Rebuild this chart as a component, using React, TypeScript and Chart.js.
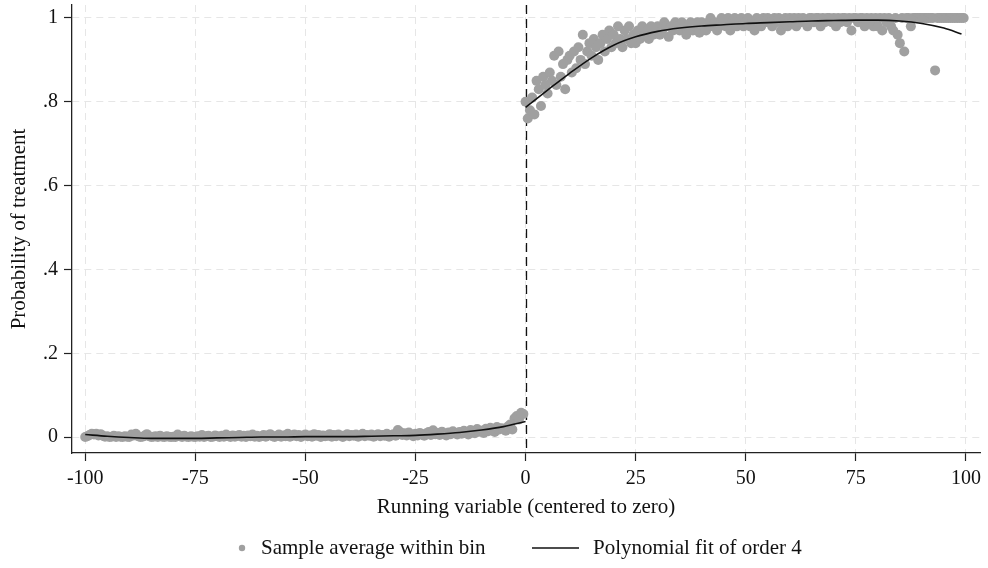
import React, { useEffect, useRef } from 'react';
import { Chart, registerables } from 'chart.js';

Chart.register(...registerables);

// ---------- data ----------
const cutoff = 0;
const binWidth = 0.5;
const leftBinStart = -100;
const rightBinStart = 0;

// sample averages within bins, left of cutoff (-100 .. -0.5, step 0.5)
const leftBinMeans = [
  0.000, 0.002, 0.005, 0.008, 0.006, 0.008, 0.004, 0.007, 0.003, 0.001,
  0.002, 0.000, 0.001, 0.003, 0.000, 0.002, 0.001, 0.000, 0.002, 0.001,
  0.000, 0.006, 0.004, 0.008, 0.002, 0.000, 0.001, 0.003, 0.007, 0.002,
  0.000, 0.001, 0.002, 0.000, 0.003, 0.001, 0.000, 0.002, 0.001, 0.000,
  0.001, 0.000, 0.006, 0.002, 0.000, 0.003, 0.001, 0.000, 0.002, 0.001,
  0.000, 0.002, 0.001, 0.005, 0.000, 0.002, 0.003, 0.000, 0.001, 0.004,
  0.002, 0.000, 0.003, 0.001, 0.006, 0.002, 0.000, 0.004, 0.001, 0.003,
  0.005, 0.001, 0.003, 0.000, 0.004, 0.002, 0.006, 0.001, 0.003, 0.000,
  0.002, 0.005, 0.001, 0.004, 0.007, 0.002, 0.000, 0.003, 0.006, 0.001,
  0.004, 0.002, 0.008, 0.001, 0.003, 0.006, 0.002, 0.005, 0.000, 0.004,
  0.006, 0.002, 0.004, 0.001, 0.007, 0.003, 0.005, 0.000, 0.004, 0.002,
  0.003, 0.007, 0.001, 0.005, 0.002, 0.006, 0.004, 0.000, 0.003, 0.007,
  0.002, 0.005, 0.003, 0.006, 0.001, 0.004, 0.008, 0.002, 0.005, 0.003,
  0.006, 0.001, 0.004, 0.007, 0.002, 0.005, 0.003, 0.008, 0.001, 0.004,
  0.007, 0.003, 0.017, 0.012, 0.005, 0.009, 0.004, 0.011, 0.006, 0.002,
  0.008, 0.004, 0.010, 0.006, 0.003, 0.009, 0.012, 0.005, 0.016, 0.007,
  0.010, 0.005, 0.013, 0.008, 0.004, 0.011, 0.007, 0.014, 0.009, 0.006,
  0.012, 0.008, 0.015, 0.010, 0.006, 0.017, 0.011, 0.009, 0.019, 0.013,
  0.015, 0.010, 0.020, 0.014, 0.022, 0.016, 0.012, 0.024, 0.018, 0.021,
  0.020, 0.015, 0.025, 0.030, 0.018, 0.045, 0.050, 0.042, 0.058, 0.055,
];

// sample averages within bins, right of cutoff (0 .. 99.5, step 0.5)
const rightBinMeans = [
  0.80, 0.76, 0.78, 0.81, 0.77, 0.85, 0.83, 0.79, 0.86, 0.84,
  0.82, 0.87, 0.85, 0.91, 0.84, 0.92, 0.86, 0.89, 0.83, 0.90,
  0.91, 0.87, 0.92, 0.88, 0.93, 0.90, 0.96, 0.89, 0.92, 0.94,
  0.91, 0.95, 0.93, 0.90, 0.94, 0.96, 0.92, 0.95, 0.97, 0.93,
  0.96, 0.94, 0.98, 0.95, 0.93, 0.97, 0.95, 0.98, 0.94, 0.96,
  0.94, 0.97, 0.95, 0.98, 0.96, 0.97, 0.95, 0.98, 0.96, 0.97,
  0.98, 0.96, 0.97, 0.99, 0.98, 0.955, 0.98, 0.97, 0.99, 0.98,
  0.97, 0.99, 0.98, 0.96, 0.98, 0.99, 0.97, 0.98, 0.99, 0.965,
  0.99, 0.98, 0.97, 0.99, 1.00, 0.98, 0.99, 0.97, 0.98, 1.00,
  0.99, 0.98, 1.00, 0.97, 0.99, 1.00, 0.98, 0.99, 1.00, 0.98,
  0.99, 1.00, 0.98, 0.99, 0.97, 1.00, 0.99, 0.98, 1.00, 0.99,
  1.00, 0.99, 0.98, 1.00, 0.99, 1.00, 0.97, 0.99, 1.00, 0.98,
  1.00, 0.99, 1.00, 0.98, 1.00, 0.99, 1.00, 0.99, 0.98, 1.00,
  1.00, 0.99, 1.00, 1.00, 0.98, 1.00, 0.99, 1.00, 1.00, 0.99,
  1.00, 0.98, 1.00, 0.99, 1.00, 1.00, 0.99, 1.00, 0.97, 1.00,
  1.00, 0.99, 1.00, 1.00, 0.98, 1.00, 0.99, 1.00, 0.98, 1.00,
  0.98, 1.00, 0.97, 1.00, 0.99, 1.00, 0.98, 0.97, 1.00, 0.96,
  0.94, 1.00, 0.92, 1.00, 1.00, 0.98, 1.00, 1.00, 1.00, 1.00,
  1.00, 1.00, 1.00, 1.00, 1.00, 1.00, 0.875, 1.00, 1.00, 1.00,
  1.00, 1.00, 1.00, 1.00, 1.00, 1.00, 1.00, 1.00, 1.00, 1.00,
];

// polynomial fit of order 4
const fitLeftX = [-100, -95, -90, -85, -80, -75, -70, -65, -60, -55, -50, -45, -40, -35, -30, -25, -20, -15, -10, -5, 0];
const fitLeftY = [0.006, 0.002, -0.001, -0.003, -0.003, -0.003, -0.002, -0.001, 0.000, 0.000, 0.001, 0.001, 0.001, 0.002, 0.003, 0.004, 0.007, 0.011, 0.017, 0.025, 0.037];
const fitRightX = [0, 5, 10, 15, 20, 25, 30, 35, 40, 45, 50, 55, 60, 65, 70, 75, 80, 85, 90, 95, 99];
const fitRightY = [0.787, 0.828, 0.868, 0.905, 0.935, 0.955, 0.968, 0.976, 0.981, 0.984, 0.987, 0.989, 0.991, 0.993, 0.994, 0.995, 0.995, 0.993, 0.987, 0.976, 0.962];

const xTickValues = [-100, -75, -50, -25, 0, 25, 50, 75, 100];
const xTickLabels = ['-100', '-75', '-50', '-25', '0', '25', '50', '75', '100'];
const yTickValues = [0, 0.2, 0.4, 0.6, 0.8, 1];
const yTickLabels = ['0', '.2', '.4', '.6', '.8', '1'];

const xTitle = 'Running variable (centered to zero)';
const yTitle = 'Probability of treatment';
const legendLabels = ['Sample average within bin', 'Polynomial fit of order 4'];

// ---------- styles ----------
const FONT = '"Liberation Serif", "Times New Roman", serif';
const DOT = '#a0a0a0';
const INK = '#111111';
const GRID = '#e6e6e6';

const cutoffLine = {
  id: 'cutoffLine',
  beforeDatasetsDraw(chart: any) {
    const { ctx, chartArea, scales } = chart;
    const x = Math.round(scales.x.getPixelForValue(cutoff)) + 0.5;
    ctx.save();
    ctx.strokeStyle = INK;
    ctx.lineWidth = 1.3;
    ctx.setLineDash([9, 5]);
    ctx.beginPath();
    ctx.moveTo(x, chartArea.top);
    ctx.lineTo(x, chartArea.bottom);
    ctx.stroke();
    ctx.restore();
  },
};

const bottomLegend = {
  id: 'bottomLegend',
  afterDraw(chart: any) {
    const { ctx } = chart;
    const y = 548;
    ctx.save();
    ctx.font = `21px ${FONT}`;
    ctx.textBaseline = 'middle';
    ctx.textAlign = 'left';
    ctx.fillStyle = DOT;
    ctx.beginPath();
    ctx.arc(242, y, 3.2, 0, Math.PI * 2);
    ctx.fill();
    ctx.fillStyle = INK;
    ctx.fillText(legendLabels[0], 261, y);
    ctx.strokeStyle = INK;
    ctx.lineWidth = 1.5;
    ctx.beginPath();
    ctx.moveTo(532, y);
    ctx.lineTo(579, y);
    ctx.stroke();
    ctx.fillText(legendLabels[1], 593, y);
    ctx.restore();
  },
};

export default function App() {
  const canvasRef = useRef<HTMLCanvasElement | null>(null);

  useEffect(() => {
    document.body.style.margin = '0';
    const canvas = canvasRef.current;
    if (!canvas) return;

    const scatterPoints = [
      ...leftBinMeans.map((y, i) => ({ x: leftBinStart + i * binWidth, y })),
      ...rightBinMeans.map((y, i) => ({ x: rightBinStart + i * binWidth, y })),
    ];
    const fitLeft = fitLeftX.map((x, i) => ({ x, y: fitLeftY[i] }));
    const fitRight = fitRightX.map((x, i) => ({ x, y: fitRightY[i] }));

    const lineDs = (data: any[]) => ({
      type: 'scatter' as const,
      data,
      showLine: true,
      borderColor: INK,
      borderWidth: 1.6,
      pointRadius: 0,
      cubicInterpolationMode: 'monotone' as const,
      fill: false,
      order: 0,
    });

    const zeroPad = (s: any) => {
      s.paddingTop = 0;
      s.paddingBottom = 0;
      s.paddingLeft = 0;
      s.paddingRight = 0;
    };

    const chart = new Chart(canvas, {
      type: 'scatter',
      data: {
        datasets: [
          lineDs(fitLeft),
          lineDs(fitRight),
          {
            type: 'scatter',
            label: legendLabels[0],
            data: scatterPoints,
            backgroundColor: DOT,
            borderWidth: 0,
            pointRadius: 5,
            order: 1,
          },
        ],
      },
      options: {
        animation: false,
        responsive: false,
        devicePixelRatio: 1,
        layout: { padding: { left: 0, right: 8, top: 4, bottom: 43 } },
        plugins: { legend: { display: false }, tooltip: { enabled: false } },
        scales: {
          x: {
            type: 'linear',
            min: -103,
            max: 103.2,
            afterBuildTicks: (s: any) => {
              s.ticks = xTickValues.map((v) => ({ value: v }));
            },
            afterFit: (s: any) => {
              s.height = 72;
              zeroPad(s);
            },
            ticks: {
              autoSkip: false,
              maxRotation: 0,
              padding: 6,
              color: INK,
              font: { family: FONT, size: 20 },
              callback: (v: any) => {
                const i = xTickValues.indexOf(Number(v));
                return i >= 0 ? xTickLabels[i] : '';
              },
            },
            grid: {
              color: GRID,
              lineWidth: 1,
              tickLength: 8,
              tickColor: '#222',
              tickWidth: 1.2,
              tickBorderDash: [],
            },
            border: { display: true, color: '#222', width: 1.3, dash: [7, 5] },
            title: {
              display: true,
              text: xTitle,
              color: INK,
              font: { family: FONT, size: 21 },
              padding: { top: 0, bottom: 5 },
            },
          },
          y: {
            type: 'linear',
            min: -0.038,
            max: 1.031,
            afterBuildTicks: (s: any) => {
              s.ticks = yTickValues.map((v) => ({ value: v }));
            },
            afterFit: (s: any) => {
              s.width = 72;
              zeroPad(s);
            },
            ticks: {
              autoSkip: false,
              padding: 6,
              color: INK,
              font: { family: FONT, size: 20 },
              callback: (v: any) => {
                const i = yTickValues.indexOf(Number(v));
                return i >= 0 ? yTickLabels[i] : '';
              },
            },
            grid: {
              color: GRID,
              lineWidth: 1,
              tickLength: 8,
              tickColor: '#222',
              tickWidth: 1.2,
              tickBorderDash: [],
            },
            border: { display: true, color: '#222', width: 1.3, dash: [7, 5] },
            title: {
              display: true,
              text: yTitle,
              color: INK,
              font: { family: FONT, size: 21 },
              padding: { top: 7, bottom: 0 },
            },
          },
        },
      },
      plugins: [cutoffLine, bottomLegend],
    } as any);

    return () => chart.destroy();
  }, []);

  return (
    <div style={{ width: 988, height: 568 }}>
      <canvas ref={canvasRef} width={988} height={568} style={{ display: 'block' }} />
    </div>
  );
}
